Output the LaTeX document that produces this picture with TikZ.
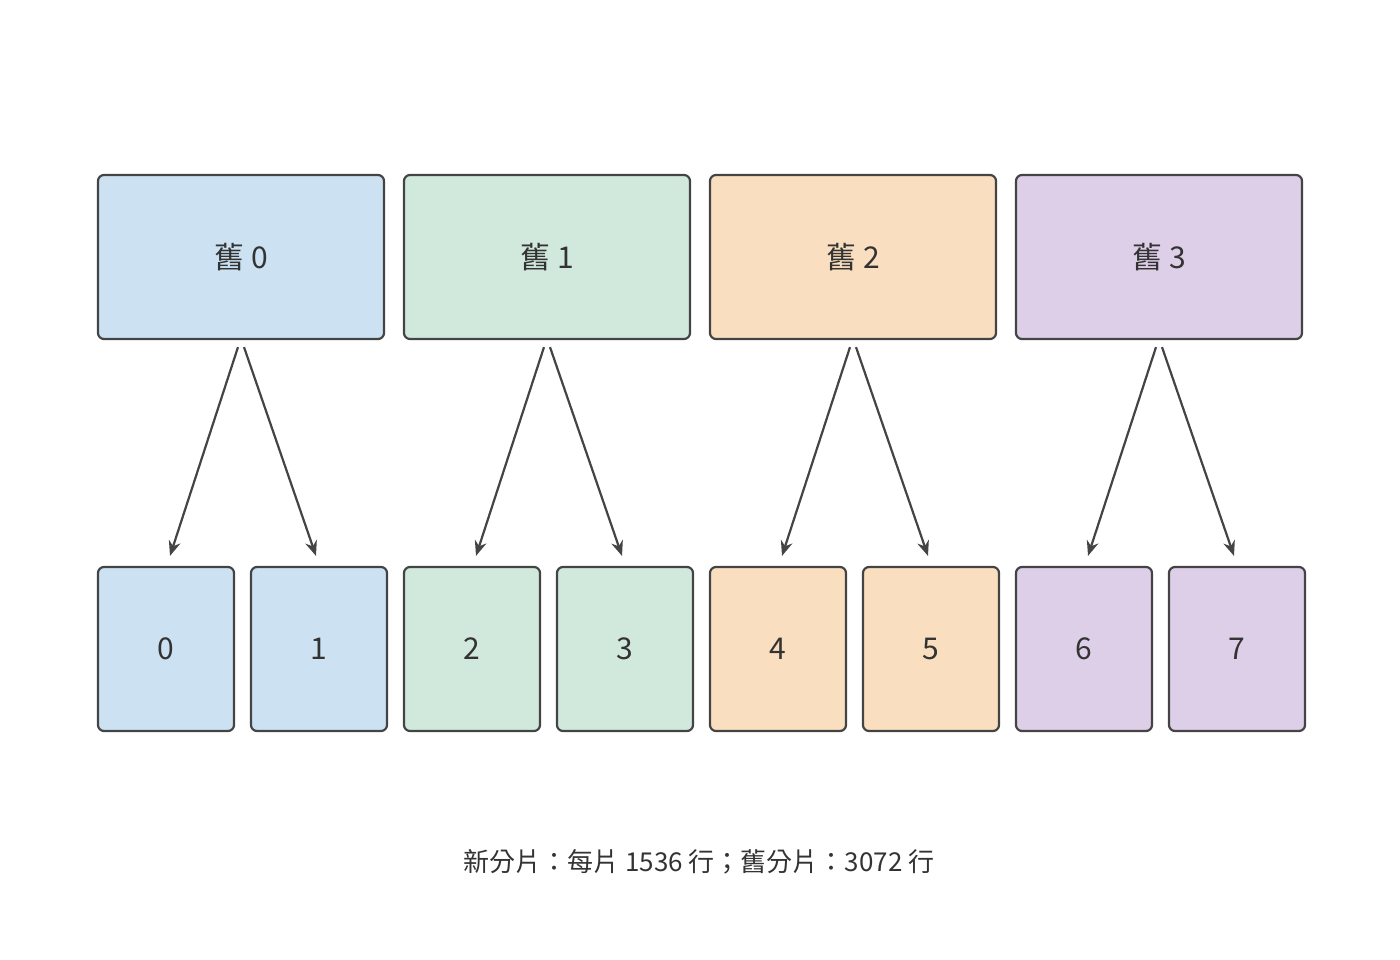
\documentclass[tikz,border=0pt]{standalone}
\usepackage{fontspec}
\setmainfont{Noto Sans CJK TC}
\usetikzlibrary{arrows.meta}
\definecolor{cb}{HTML}{CCE2F2}
\definecolor{cg}{HTML}{D1E8DC}
\definecolor{co}{HTML}{F9DEBF}
\definecolor{cp}{HTML}{DECFE8}
\definecolor{ln}{HTML}{444444}
\definecolor{tx}{HTML}{333333}
\begin{document}
\begin{tikzpicture}[x=1pt,y=-1pt,
  box/.style={draw=ln,line width=2.2pt,rounded corners=6pt,inner sep=0pt,text=tx},
  top/.style={box,minimum width=286pt,minimum height=164pt,font=\fontsize{30}{36}\selectfont},
  bot/.style={box,minimum width=136pt,minimum height=164pt,font=\fontsize{30}{36}\selectfont},
  arr/.style={draw=ln,line width=2.2pt,-{Stealth[length=15pt,width=12pt]}}]
\useasboundingbox (0,0) rectangle (1400,960);
\node[top,fill=cb] (t0) at (241,257) {舊 0};
\node[top,fill=cg] (t1) at (547,257) {舊 1};
\node[top,fill=co] (t2) at (853,257) {舊 2};
\node[top,fill=cp] (t3) at (1159,257) {舊 3};
\node[bot,fill=cb] (b0) at (166,649) {0};
\node[bot,fill=cb] (b1) at (319,649) {1};
\node[bot,fill=cg] (b2) at (472,649) {2};
\node[bot,fill=cg] (b3) at (625,649) {3};
\node[bot,fill=co] (b4) at (778,649) {4};
\node[bot,fill=co] (b5) at (931,649) {5};
\node[bot,fill=cp] (b6) at (1084,649) {6};
\node[bot,fill=cp] (b7) at (1237,649) {7};
\foreach \t/\a/\b in {t0/b0/b1,t1/b2/b3,t2/b4/b5,t3/b6/b7}{
  \draw[arr] ([xshift=-3pt,yshift=-7pt]\t.south) -- ([xshift=4pt,yshift=10pt]\a.north);
  \draw[arr] ([xshift=3pt,yshift=-7pt]\t.south) -- ([xshift=-3pt,yshift=10pt]\b.north);
}
\node[text=tx,font=\fontsize{26}{32}\selectfont] (cap) at (699,862) {新分片：每片 1536 行；舊分片：3072 行};
\end{tikzpicture}
\end{document}
